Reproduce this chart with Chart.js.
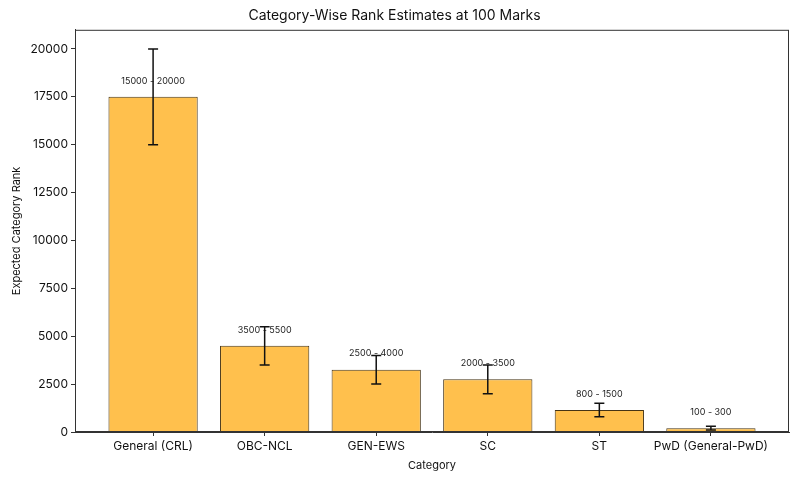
<!DOCTYPE html>
<html>
<head>
<meta charset="utf-8">
<script src="https://cdn.jsdelivr.net/npm/chart.js@4.4.1/dist/chart.umd.min.js"></script>
<style>
html,body{margin:0;padding:0;background:#fff;}
#wrap{width:800px;height:480px;}
</style>
</head>
<body>
<div id="wrap"><canvas id="c" width="800" height="480"></canvas></div>
<script>
const categories = ["General (CRL)", "OBC-NCL", "GEN-EWS", "SC", "ST", "PwD (General-PwD)"];
const lowRanks = [15000, 3500, 2500, 2000, 800, 100];
const highRanks = [20000, 5500, 4000, 3500, 1500, 300];
const midRanks = [17500, 4500, 3250, 2750, 1150, 200];
const rangeLabels = ["15000 - 20000", "3500 - 5500", "2500 - 4000", "2000 - 3500", "800 - 1500", "100 - 300"];
const yTicks = [0, 2500, 5000, 7500, 10000, 12500, 15000, 17500, 20000];

const FONT = "Inter, 'Open Sans', 'DejaVu Sans', sans-serif";

const extras = {
  id: 'extras',
  afterDatasetsDraw(chart) {
    const ctx = chart.ctx;
    const xs = chart.scales.x, ys = chart.scales.y;
    ctx.save();
    ctx.font = "9px " + FONT;
    ctx.fillStyle = "#222";
    ctx.textAlign = "center";
    ctx.textBaseline = "middle";
    for (let i = 0; i < categories.length; i++) {
      const x = xs.getPixelForValue(i);
      const y = ys.getPixelForValue(midRanks[i]) - 16;
      ctx.fillText(rangeLabels[i], x, y);
    }
    ctx.strokeStyle = "#111";
    ctx.lineWidth = 1.5;
    for (let i = 0; i < categories.length; i++) {
      const x = xs.getPixelForValue(i);
      const y1 = ys.getPixelForValue(lowRanks[i]);
      const y2 = ys.getPixelForValue(highRanks[i]);
      ctx.beginPath();
      ctx.moveTo(x, y1); ctx.lineTo(x, y2);
      ctx.moveTo(x - 5, y1); ctx.lineTo(x + 5, y1);
      ctx.moveTo(x - 5, y2); ctx.lineTo(x + 5, y2);
      ctx.stroke();
    }
    const a = chart.chartArea;
    ctx.strokeStyle = "#333";
    ctx.lineWidth = 1;
    ctx.strokeRect(a.left + 0.5, a.top + 0.5, a.right - a.left - 1, a.bottom - a.top - 1);
    ctx.restore();
  }
};

new Chart(document.getElementById('c'), {
  type: 'bar',
  data: {
    datasets: [{
      data: midRanks.map((v, i) => ({x: i, y: v})),
      backgroundColor: 'rgb(255,192,77)',
      borderColor: 'rgb(70,52,20)',
      borderWidth: 1,
      barPercentage: 0.8,
      categoryPercentage: 1.0
    }]
  },
  options: {
    responsive: false,
    animation: false,
    layout: { padding: { left: 0, right: 11, top: 0, bottom: 6 } },
    plugins: {
      legend: { display: false },
      tooltip: { enabled: false },
      title: {
        display: true,
        text: "Category-Wise Rank Estimates at 100 Marks",
        color: "#111",
        font: { family: FONT, size: 14, weight: 'normal' },
        padding: { top: 7, bottom: 6 }
      }
    },
    scales: {
      x: {
        type: 'linear',
        offset: false,
        min: -0.7,
        max: 5.7,
        afterBuildTicks: s => { s.ticks = categories.map((c, i) => ({value: i})); },
        afterFit: s => { s.height = 42; },
        ticks: {
          autoSkip: false,
          maxRotation: 0,
          color: "#111",
          font: { family: FONT, size: 12 },
          padding: 3,
          callback: v => categories[v]
        },
        grid: { display: true, offset: false, drawOnChartArea: false, drawTicks: true, tickLength: 4, color: "#333" },
        border: { display: true, color: "#333" },
        title: { display: true, text: "Category", color: "#111", font: { family: FONT, size: 11 }, padding: { top: 2, bottom: 2 } }
      },
      y: {
        type: 'linear',
        min: 0,
        max: 21000,
        afterBuildTicks: s => { s.ticks = yTicks.map(v => ({value: v})); },
        afterFit: s => { s.width = 75; },
        ticks: {
          color: "#111",
          font: { family: FONT, size: 12 },
          padding: 3,
          callback: v => String(v)
        },
        grid: { display: true, drawOnChartArea: false, drawTicks: true, tickLength: 4, color: "#333" },
        border: { display: true, color: "#333" },
        title: { display: true, text: "Expected Category Rank", color: "#111", font: { family: FONT, size: 11 }, padding: { top: 10, bottom: 4 } }
      }
    }
  },
  plugins: [extras]
});
</script>
</body>
</html>
